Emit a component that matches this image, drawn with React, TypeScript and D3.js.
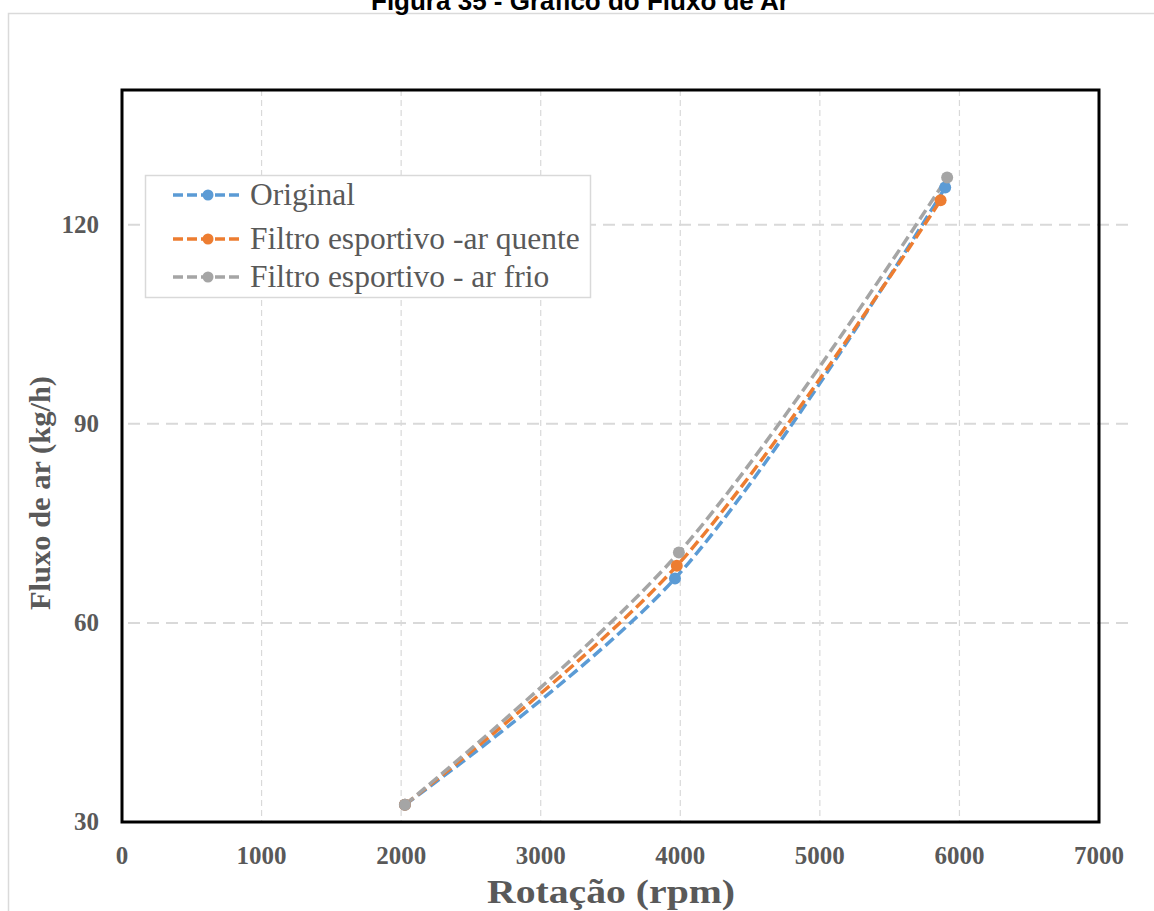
import { useEffect, useRef } from 'react';
import * as d3 from 'd3';

const seriesNames = ['Original', 'Filtro esportivo -ar quente', 'Filtro esportivo - ar frio'];
const seriesColors = ['#5b9bd5', '#ed7d31', '#a5a5a5'];
const rpmOriginal = [2027, 3962, 5898];
const flowOriginal = [32.6, 66.7, 125.6];
const rpmQuente = [2027, 3975, 5865];
const flowQuente = [32.6, 68.6, 123.7];
const rpmFrio = [2027, 3990, 5912];
const flowFrio = [32.6, 70.6, 127.1];
const xTicks = [0, 1000, 2000, 3000, 4000, 5000, 6000, 7000];
const yTicks = [30, 60, 90, 120];

export default function App() {
  const svgRef = useRef<SVGSVGElement | null>(null);

  useEffect(() => {
    if (!svgRef.current) return;
    const svg = d3.select(svgRef.current);
    svg.selectAll('*').remove();

    const width = 1154;
    const height = 911;
    const plot = { left: 122, right: 1099, top: 90, bottom: 822 };

    const x = d3.scaleLinear().domain([0, 7000]).range([plot.left, plot.right]);
    const y = d3.scaleLinear().domain([30, 140.3]).range([plot.bottom, plot.top]);

    const series = [
      { name: seriesNames[0], color: seriesColors[0], pts: rpmOriginal.map((r, i) => [r, flowOriginal[i]]) },
      { name: seriesNames[1], color: seriesColors[1], pts: rpmQuente.map((r, i) => [r, flowQuente[i]]) },
      { name: seriesNames[2], color: seriesColors[2], pts: rpmFrio.map((r, i) => [r, flowFrio[i]]) },
    ];

    svg.append('rect').attr('width', width).attr('height', height).attr('fill', '#fff');

    // outer frame
    svg.append('rect')
      .attr('x', 8.5).attr('y', 13.5)
      .attr('width', width + 20).attr('height', height + 20)
      .attr('fill', 'none').attr('stroke', '#dadada').attr('stroke-width', 1.5);

    // title (partly cut at top, as in the source)
    svg.append('text')
      .attr('x', 580).attr('y', 10)
      .attr('text-anchor', 'middle')
      .attr('font-family', 'Liberation Sans, Arial, sans-serif')
      .attr('font-weight', 'bold')
      .attr('font-size', 26)
      .attr('fill', '#000')
      .text('Figura 35 - Gráfico do Fluxo de Ar');

    // vertical grid
    svg.append('g')
      .selectAll('line')
      .data(xTicks.slice(1, -1))
      .join('line')
      .attr('x1', d => x(d)).attr('x2', d => x(d))
      .attr('y1', plot.top).attr('y2', plot.bottom)
      .attr('stroke', '#d9d9d9').attr('stroke-width', 1.2)
      .attr('stroke-dasharray', '6 4');

    // horizontal grid
    svg.append('g')
      .selectAll('line')
      .data(yTicks.slice(1))
      .join('line')
      .attr('x1', plot.left + 6).attr('x2', 1132)
      .attr('y1', d => y(d)).attr('y2', d => y(d))
      .attr('stroke', '#d9d9d9').attr('stroke-width', 2)
      .attr('stroke-dasharray', '12 7');

    // plot border
    svg.append('rect')
      .attr('x', plot.left).attr('y', plot.top)
      .attr('width', plot.right - plot.left).attr('height', plot.bottom - plot.top)
      .attr('fill', 'none').attr('stroke', '#000').attr('stroke-width', 3);

    const tickFont = 'Liberation Serif, Times New Roman, serif';

    svg.append('g')
      .attr('font-family', tickFont).attr('font-weight', 'bold')
      .attr('font-size', 25).attr('fill', '#595959').attr('text-anchor', 'middle')
      .selectAll('text')
      .data(xTicks)
      .join('text')
      .attr('x', d => x(d)).attr('y', 864)
      .text(d => d);

    svg.append('g')
      .attr('font-family', tickFont).attr('font-weight', 'bold')
      .attr('font-size', 25).attr('fill', '#595959').attr('text-anchor', 'end')
      .selectAll('text')
      .data(yTicks)
      .join('text')
      .attr('x', 99).attr('y', d => y(d) + 8)
      .text(d => d);

    // axis titles
    svg.append('text')
      .attr('x', 611).attr('y', 903)
      .attr('text-anchor', 'middle')
      .attr('font-family', tickFont).attr('font-weight', 'bold')
      .attr('font-size', 33).attr('fill', '#595959')
      .attr('textLength', 248).attr('lengthAdjust', 'spacingAndGlyphs')
      .text('Rotação (rpm)');

    svg.append('text')
      .attr('transform', 'translate(50,493) rotate(-90)')
      .attr('text-anchor', 'middle')
      .attr('font-family', tickFont).attr('font-weight', 'bold')
      .attr('font-size', 29).attr('fill', '#595959')
      .attr('textLength', 234).attr('lengthAdjust', 'spacingAndGlyphs')
      .text('Fluxo de ar (kg/h)');

    // series
    const line = d3.line<number[]>()
      .x(d => x(d[0]))
      .y(d => y(d[1]))
      .curve(d3.curveCatmullRom.alpha(0.5));

    const g = svg.append('g');
    series.forEach(s => {
      g.append('path')
        .attr('d', line(s.pts))
        .attr('fill', 'none')
        .attr('stroke', s.color)
        .attr('stroke-width', 3.5)
        .attr('stroke-dasharray', '11 5');
    });
    series.forEach(s => {
      g.selectAll(null)
        .data(s.pts)
        .join('circle')
        .attr('cx', d => x(d[0])).attr('cy', d => y(d[1]))
        .attr('r', 6)
        .attr('fill', s.color);
    });

    // legend
    const legend = svg.append('g');
    legend.append('rect')
      .attr('x', 145.5).attr('y', 175.5)
      .attr('width', 445).attr('height', 122)
      .attr('fill', '#fff').attr('stroke', '#d9d9d9').attr('stroke-width', 1.5);

    const rowY = [195, 239, 277];
    series.forEach((s, i) => {
      const ly = rowY[i];
      legend.append('line')
        .attr('x1', 173).attr('x2', 243)
        .attr('y1', ly).attr('y2', ly)
        .attr('stroke', s.color).attr('stroke-width', 3.5)
        .attr('stroke-dasharray', '10 4');
      legend.append('circle')
        .attr('cx', 208).attr('cy', ly).attr('r', 5.5).attr('fill', s.color);
      legend.append('text')
        .attr('x', 250).attr('y', ly + 10)
        .attr('font-family', tickFont)
        .attr('font-size', 31.5).attr('fill', '#595959')
        .text(s.name);
    });
  }, []);

  return (
    <svg
      ref={svgRef}
      width={1154}
      height={911}
      style={{ position: 'absolute', left: 0, top: 0, display: 'block' }}
    ></svg>
  );
}
